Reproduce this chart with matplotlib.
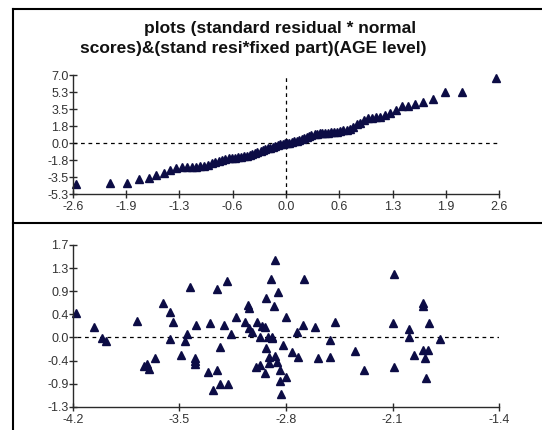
import matplotlib
matplotlib.use("Agg")
import matplotlib.pyplot as plt
from matplotlib.lines import Line2D

plt.rcParams["font.family"] = ["Liberation Sans", "DejaVu Sans"]

# -----------------------------
# Data
# -----------------------------
title_1 = "plots (standard residual * normal"
title_2 = "scores)&(stand resi*fixed part)(AGE level)"

# top panel: standard residual vs normal scores
normal_scores = [
    -2.56, -2.14, -1.94, -1.79, -1.67, -1.58, -1.49, -1.41, -1.34, -1.27,
    -1.21, -1.15, -1.10, -1.05, -1.00, -0.95, -0.90, -0.86, -0.82, -0.78,
    -0.74, -0.70, -0.66, -0.62, -0.58, -0.55, -0.51, -0.48, -0.44, -0.41,
    -0.38, -0.35, -0.31, -0.28, -0.25, -0.22, -0.19, -0.16, -0.13, -0.10,
    -0.07, -0.04, -0.01,
    0.01, 0.04, 0.07, 0.10, 0.13, 0.16, 0.19, 0.22, 0.25, 0.28,
    0.31, 0.35, 0.38, 0.41, 0.44, 0.48, 0.51, 0.55, 0.58, 0.62,
    0.66, 0.70, 0.74, 0.78, 0.82, 0.86, 0.90, 0.95, 1.00, 1.05,
    1.10, 1.15, 1.21, 1.27, 1.34, 1.41, 1.49, 1.57, 1.67, 1.79,
    1.94, 2.15, 2.56,
]
std_resid_top = [
    -4.24, -4.17, -4.10, -3.72, -3.59, -3.34, -3.07, -2.80, -2.62, -2.52,
    -2.52, -2.49, -2.46, -2.42, -2.36, -2.25, -2.10, -1.95, -1.84, -1.72,
    -1.64, -1.58, -1.54, -1.51, -1.48, -1.44, -1.38, -1.32, -1.24, -1.14,
    -1.05, -0.96, -0.86, -0.76, -0.66, -0.56, -0.48, -0.40, -0.32, -0.24,
    -0.15, -0.09, -0.04,
    -0.02, 0.04, 0.08, 0.15, 0.24, 0.34, 0.44, 0.54, 0.64, 0.72,
    0.80, 0.87, 0.93, 0.98, 1.01, 1.04, 1.06, 1.09, 1.12, 1.17,
    1.23, 1.28, 1.33, 1.42, 1.60, 1.90, 2.10, 2.35, 2.53, 2.60,
    2.64, 2.70, 2.85, 3.10, 3.35, 3.80, 3.80, 3.98, 4.19, 4.56,
    5.28, 5.28, 6.72,
]
top_xticks = [-2.6, -1.95, -1.3, -0.65, 0.0, 0.65, 1.3, 1.95, 2.6]
top_xlabels = ["-2.6", "-1.9", "-1.3", "-0.6", "0.0", "0.6", "1.3", "1.9", "2.6"]
top_yticks = [-5.3, -3.543, -1.786, -0.029, 1.729, 3.486, 5.243, 7.0]
top_ylabels = ["-5.3", "-3.5", "-1.8", "0.0", "1.8", "3.5", "5.3", "7.0"]

# bottom panel: standard residual vs fixed part
fixed_part = [
    -4.18, -4.06, -4.01, -3.98, -3.78, -3.73, -3.71, -3.70, -3.66, -3.61,
    -3.56, -3.54, -3.56, -3.49, -3.46, -3.45, -3.43, -3.40, -3.40, -3.40,
    -3.39, -3.31, -3.30, -3.28, -3.25, -3.25, -3.23, -3.23, -3.21, -3.19,
    -3.18, -3.16, -3.13, -3.07, -3.05, -3.04, -3.04, -3.02, -3.00, -2.99,
    -2.97, -2.96, -2.94, -2.94, -2.93, -2.93, -2.92, -2.91, -2.91, -2.90,
    -2.88, -2.87, -2.89, -2.87, -2.86,
    -2.97, -2.89, -2.84, -2.80, -2.84, -2.83, -2.68, -2.85,
    -2.80, -2.82, -2.76, -2.73, -2.72, -2.69, -2.61, -2.59, -2.51, -2.51,
    -2.48, -2.35, -2.29, -2.10, -2.09, -2.09, -1.99, -1.99, -1.96, -1.90,
    -1.90, -1.90, -1.87, -1.89, -1.88, -1.86, -1.79,
]
std_resid_bottom = [
    0.43, 0.18, -0.03, -0.08, 0.29, -0.55, -0.51, -0.60, -0.39, 0.63,
    0.45, 0.27, -0.04, -0.35, -0.09, 0.05, 0.93, -0.39, -0.45, -0.51,
    0.22, -0.66, 0.25, -0.99, 0.88, -0.61, -0.19, -0.88, 0.22, 1.04,
    -0.88, 0.04, 0.36, 0.28, 0.59, 0.54, 0.16, 0.09, -0.56, 0.27,
    -0.53, 0.20, -0.68, 0.17, 0.71, -0.22, 0.00, -0.37, -0.49, 1.06,
    0.56, 1.43, -0.01, -0.36, -0.47,
    0.00, -0.03, -0.61, -0.74, -0.82, -1.07, 1.06, 0.82,
    0.36, -0.16, -0.29, 0.09, -0.38, 0.22, 0.18, -0.40, -0.06, -0.37,
    0.27, -0.26, -0.61, 0.25, 1.17, -0.56, 0.14, -0.01, -0.35, 0.62,
    0.56, -0.25, -0.25, -0.39, -0.77, 0.26, -0.05,
]
bot_xticks = [-4.2, -3.5, -2.8, -2.1, -1.4]
bot_xlabels = ["-4.2", "-3.5", "-2.8", "-2.1", "-1.4"]
bot_yticks = [-1.3, -0.871, -0.443, -0.014, 0.414, 0.843, 1.271, 1.7]
bot_ylabels = ["-1.3", "-0.9", "-0.4", "0.0", "0.4", "0.9", "1.3", "1.7"]

# -----------------------------
# Figure
# -----------------------------
W, H = 542, 430
fig = plt.figure(figsize=(W / 100, H / 100), dpi=100)
fig.patch.set_facecolor("white")

marker_col = "#0c0c45"
axis_col = "#2a2a2a"
label_col = "#333333"


def px_axes(x0, y0, x1, y1):
    return fig.add_axes([x0 / W, 1 - y1 / H, (x1 - x0) / W, (y1 - y0) / H])


def style(ax, xt, xl, yt, yl):
    for s in ("top", "right"):
        ax.spines[s].set_visible(False)
    for s in ("left", "bottom"):
        ax.spines[s].set_color(axis_col)
        ax.spines[s].set_linewidth(1.0)
    ax.set_xticks(xt)
    ax.set_xticklabels(xl)
    ax.set_yticks(yt)
    ax.set_yticklabels(yl)
    ax.tick_params(axis="both", direction="inout", length=6, width=1,
                   color=axis_col, labelcolor=label_col, labelsize=9, pad=0)
    ax.tick_params(axis="x", pad=2)
    ax.patch.set_alpha(0)


# top panel
ax1 = px_axes(72.7, 75, 499.3, 194.3)
ax1.set_xlim(-2.6, 2.6)
ax1.set_ylim(-5.3, 7.0)
ax1.axhline(0, color="black", lw=0.9, ls=(0, (3, 3)), xmin=0, xmax=1)
ax1.axvline(0, color="black", lw=0.9, ls=(0, (3, 3)))
ax1.plot(normal_scores, std_resid_top, ls="none", marker="^", ms=6,
         color=marker_col, clip_on=False)
style(ax1, top_xticks, top_xlabels, top_yticks, top_ylabels)

# bottom panel
ax2 = px_axes(72.7, 245, 499.3, 406.7)
ax2.set_xlim(-4.2, -1.4)
ax2.set_ylim(-1.3, 1.7)
ax2.axhline(0, color="black", lw=0.9, ls=(0, (3, 3)), xmin=0.01, xmax=1)
ax2.plot(fixed_part, std_resid_bottom, ls="none", marker="^", ms=6,
         color=marker_col, clip_on=False)
style(ax2, bot_xticks, bot_xlabels, bot_yticks, bot_ylabels)

# title
fig.text(280 / W, 1 - 28 / H, title_1, ha="center", va="center",
         fontsize=12.5, fontweight="bold", color="#111111")
fig.text(253 / W, 1 - 49 / H, title_2, ha="center", va="center",
         fontsize=12.5, fontweight="bold", color="#111111")

# frame lines
fig.add_artist(Line2D([13 / W, 1], [1 - 9 / H] * 2, transform=fig.transFigure,
                      color="black", lw=1.5))
fig.add_artist(Line2D([13 / W] * 2, [0, 1 - 9 / H], transform=fig.transFigure,
                      color="black", lw=1.5))
fig.add_artist(Line2D([13 / W, 1], [1 - 223 / H] * 2, transform=fig.transFigure,
                      color="black", lw=1.5))

fig.savefig("out.png", dpi=100)
